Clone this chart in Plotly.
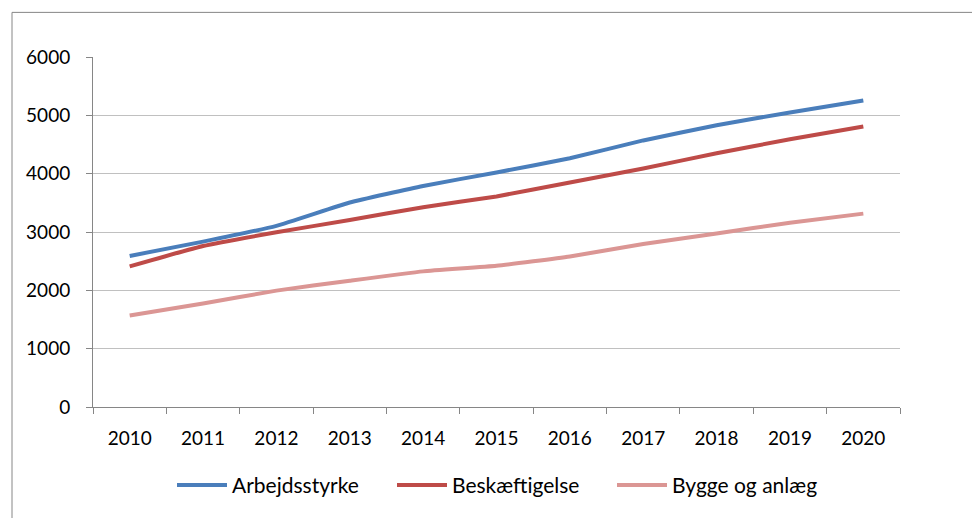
import plotly.graph_objects as go

years = ["2010", "2011", "2012", "2013", "2014", "2015", "2016", "2017", "2018", "2019", "2020"]
arbejdsstyrke = [2590, 2835, 3105, 3505, 3790, 4020, 4265, 4570, 4830, 5050, 5255]
beskaeftigelse = [2410, 2760, 2995, 3205, 3425, 3610, 3850, 4090, 4350, 4590, 4810]
bygge_og_anlaeg = [1570, 1775, 1995, 2165, 2325, 2420, 2580, 2795, 2975, 3160, 3315]

series = [
    ("Arbejdsstyrke", arbejdsstyrke, "#4A7EBB"),
    ("Beskæftigelse", beskaeftigelse, "#BE4B48"),
    ("Bygge og anlæg", bygge_og_anlaeg, "#DB9694"),
]

fig = go.Figure()
for name, vals, col in series:
    fig.add_trace(go.Scatter(
        x=years, y=vals, name=name, mode="lines",
        line=dict(color=col, width=4, shape="spline", smoothing=0.4),
    ))

# page has an 8px body margin; figure coordinates are page - 8
OFF = 8
W, H = 972, 510
L, R, T, B = 85, 80, 49, 108
pw, ph = W - L - R, H - T - B

def px_x(p):
    return (p - OFF - L) / pw

def px_y(p):
    return (H - B - (p - OFF)) / ph

fig.update_layout(
    width=W, height=H,
    margin=dict(l=L, r=R, t=T, b=B, pad=0),
    paper_bgcolor="white", plot_bgcolor="white",
    font=dict(family="Lato", size=19, color="black"),
    showlegend=True,
    legend=dict(orientation="h", x=px_x(172), xanchor="left", y=px_y(489), yanchor="middle",
                font=dict(family="Lato", size=21), itemwidth=50,
                entrywidth=155, entrywidthmode="pixels",
                traceorder="normal"),
    xaxis=dict(
        type="category", showgrid=False, showline=True, linecolor="#868686", linewidth=1,
        ticks="outside", tickson="boundaries", ticklen=6, tickcolor="#868686",
        range=[-0.5, 10.5], fixedrange=True, ticklabelstandoff=14,
        tickfont=dict(size=19),
    ),
    yaxis=dict(
        range=[0, 6000], dtick=1000, showgrid=True, gridcolor="#C0C0C0", gridwidth=1,
        showline=True, linecolor="#868686", linewidth=1,
        ticks="outside", ticklen=6, tickcolor="#868686", zeroline=False,
        ticklabelstandoff=12, tickfont=dict(size=19),
    ),
    shapes=[dict(type="rect", xref="paper", yref="paper",
                 x0=px_x(12), x1=px_x(1000), y0=px_y(540), y1=px_y(12),
                 line=dict(color="#868686", width=1), fillcolor="rgba(0,0,0,0)", layer="below")],
)

fig.write_html("out.html")
